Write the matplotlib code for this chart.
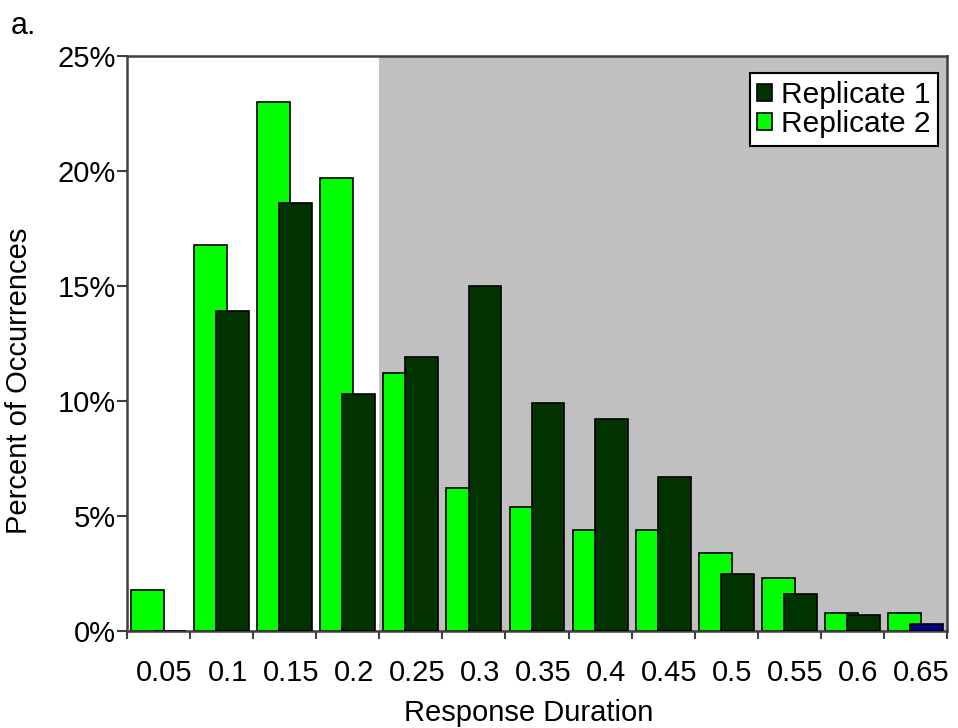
import matplotlib
matplotlib.use("Agg")
import matplotlib.pyplot as plt
from matplotlib.patches import Patch
from matplotlib.transforms import ScaledTranslation
from matplotlib.ticker import FuncFormatter

plt.rcParams['font.family'] = ['Liberation Sans', 'DejaVu Sans']

# Response-duration bins and percent of occurrences per replicate
durations = ["0.05", "0.1", "0.15", "0.2", "0.25", "0.3", "0.35",
             "0.4", "0.45", "0.5", "0.55", "0.6", "0.65"]
replicate_1 = [0.0, 13.9, 18.6, 10.3, 11.9, 15.0, 9.9, 9.2, 6.7, 2.5, 1.6, 0.7, 0.3]
replicate_2 = [1.8, 16.8, 23.0, 19.7, 11.2, 6.2, 5.4, 4.4, 4.4, 3.4, 2.3, 0.8, 0.8]
y_ticks = [0, 5, 10, 15, 20, 25]
shade_from = 4  # first bin of the shaded range (0.25 onward)

c_rep1 = "#003300"
c_rep2 = "#00FF00"
rep1_colors = [c_rep1] * (len(durations) - 1) + ["#000080"]

fs = 21

fig = plt.figure(figsize=(9.58, 7.28), dpi=100)
ax = fig.add_axes([0.1326, 0.1332, 0.8559, 0.7899])

x = list(range(len(durations)))
w = 0.52
off = 0.175

ax.axvspan(shade_from - 0.5, len(durations) - 0.5, color="#C0C0C0", zorder=0, lw=0)

ax.bar([i - off for i in x], replicate_2, width=w, color=c_rep2,
       edgecolor="black", linewidth=1.2, zorder=2)
ax.bar([i + off for i in x], replicate_1, width=w, color=rep1_colors,
       edgecolor="black", linewidth=1.2, zorder=3)

ax.set_xlim(-0.5, len(durations) - 0.5)
ax.set_ylim(0, 25)

# category labels centred on bins, tick marks on bin boundaries
ax.set_xticks(x)
ax.set_xticklabels(durations, fontsize=fs)
ax.tick_params(axis="x", which="major", length=0, pad=20)
ax.set_xticks([i - 0.5 for i in x] + [len(durations) - 0.5], minor=True)
ax.tick_params(axis="x", which="minor", length=6, width=1.5, color="#404040",
               direction="out")
shift = ScaledTranslation(6 / 100, 0, fig.dpi_scale_trans)
for lbl in ax.get_xticklabels():
    lbl.set_transform(lbl.get_transform() + shift)

ax.set_yticks(y_ticks)
ax.yaxis.set_major_formatter(FuncFormatter(lambda v, p: f"{int(v)}%"))
ax.tick_params(axis="y", length=7, width=1.5, color="#404040", pad=1,
               labelsize=fs, direction="out")

for s in ax.spines.values():
    s.set_color("#404040")
    s.set_linewidth(1.8)

ax.set_xlabel("Response Duration", fontsize=fs)
ax.set_ylabel("Percent of Occurrences", fontsize=fs)
ax.xaxis.set_label_coords(0.49, -0.143)
ax.xaxis.label.set_va("center")
ax.yaxis.set_label_coords(-0.132, 0.435)
ax.yaxis.label.set_va("center")

handles = [Patch(facecolor=c_rep1, edgecolor="black", linewidth=1.2),
           Patch(facecolor=c_rep2, edgecolor="black", linewidth=1.2)]
leg = ax.legend(handles, ["Replicate 1", "Replicate 2"], loc="upper right",
                bbox_to_anchor=(0.989, 0.970), borderaxespad=0, fontsize=21.5,
                frameon=True, fancybox=False, framealpha=1, edgecolor="black",
                handlelength=0.5, handleheight=0.5, handletextpad=0.3,
                labelspacing=0.05, borderpad=0.25)
leg.get_frame().set_linewidth(1.5)
leg.set_zorder(5)

fig.text(0.011, 0.985, "a.", fontsize=22, va="top", ha="left")

fig.savefig("out.png", dpi=100)
